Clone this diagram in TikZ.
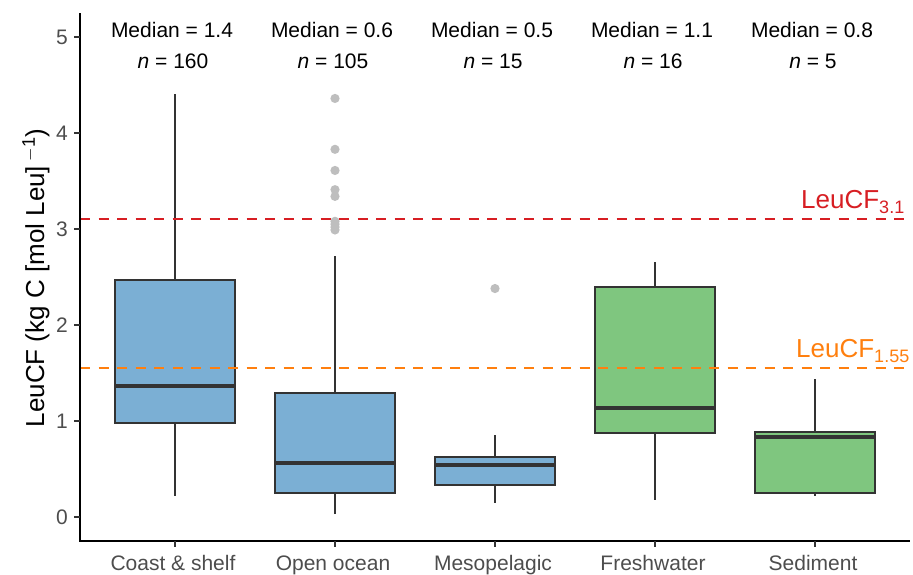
\documentclass[tikz,border=0pt]{standalone}
\usepackage{fontspec}
\setmainfont{Liberation Sans}
\definecolor{boxblue}{RGB}{123,175,212}
\definecolor{boxgreen}{RGB}{127,198,127}
\definecolor{edge}{RGB}{51,51,51}
\definecolor{ticktext}{RGB}{77,77,77}
\definecolor{outlier}{RGB}{190,190,190}
\definecolor{refred}{RGB}{215,30,35}
\definecolor{reforange}{RGB}{255,127,14}
% value on the LeuCF axis -> vertical position
\newcommand\yv[1]{517-96*(#1)}
% box plot: centre, low whisker, Q1, median, Q3, high whisker, fill
\newcommand\bplot[7]{%
  \draw[whisk] (#1,{\yv{#2}}) -- (#1,{\yv{#3}});
  \draw[whisk] (#1,{\yv{#5}}) -- (#1,{\yv{#6}});
  \draw[boxline,fill=#7] ({#1-60},{\yv{#5}}) rectangle ({#1+60},{\yv{#3}});
  \draw[medline] ({#1-60},{\yv{#4}}) -- ({#1+60},{\yv{#4}});}
\begin{document}
\begin{tikzpicture}[x=1pt,y=-1pt,
  whisk/.style={draw=edge,line width=2pt},
  boxline/.style={draw=edge,line width=2pt},
  medline/.style={draw=edge,line width=4pt},
  axisline/.style={draw=black,line width=1.8pt},
  tickmark/.style={draw=edge,line width=1.6pt},
  ticklab/.style={text=ticktext,font=\fontsize{21}{24}\selectfont},
  annot/.style={text=black,font=\fontsize{21}{24}\selectfont,anchor=base},
  refline/.style={line width=2pt,dash pattern=on 10pt off 8.5pt},
  dot/.style={fill=outlier}]
\useasboundingbox (0,0) rectangle (913,574);

% outliers
\foreach \v in {4.36,3.83,3.61,3.41,3.34,3.08,3.05,3.02,2.99}
  \fill[dot] (335,{\yv{\v}}) circle (4.6pt);
\fill[dot] (495,{\yv{2.38}}) circle (4.6pt);

% boxes
\bplot{175}{0.22}{0.98}{1.36}{2.47}{4.41}{boxblue}
\bplot{335}{0.03}{0.25}{0.56}{1.29}{2.72}{boxblue}
\bplot{495}{0.15}{0.33}{0.54}{0.63}{0.85}{boxblue}
\bplot{655}{0.18}{0.88}{1.14}{2.40}{2.66}{boxgreen}
\bplot{815}{0.22}{0.25}{0.83}{0.89}{1.44}{boxgreen}

% reference lines
\draw[refline,draw=refred] (80,{\yv{3.1}}) -- (910,{\yv{3.1}});
\draw[refline,draw=reforange] (80,{\yv{1.55}}) -- (910,{\yv{1.55}});
\node[anchor=base west,inner sep=0pt,text=refred,font=\fontsize{26}{28}\selectfont]
  (lab31) at (801,208) {LeuCF\raisebox{-5pt}{\fontsize{18}{20}\selectfont 3.1}};
\node[anchor=base west,inner sep=0pt,text=reforange,font=\fontsize{26}{28}\selectfont]
  (lab155) at (796,357) {LeuCF\raisebox{-5pt}{\fontsize{18}{20}\selectfont 1.55}};

% axes
\draw[axisline] (80,13) -- (80,541) -- (910,541);
\foreach \v in {0,1,2,3,4,5} {
  \draw[tickmark] (74,{\yv{\v}}) -- (80,{\yv{\v}});
  \node[ticklab,anchor=east,inner sep=0pt] (yt\v) at (68,{\yv{\v}}) {\v};
}
\foreach \x/\t [count=\i] in {175/Coast \& shelf,335/Open ocean,495/Mesopelagic,655/Freshwater,815/Sediment} {
  \draw[tickmark] (\x,541) -- (\x,547);
  \node[ticklab,anchor=base,inner sep=0pt] (xt\i) at ({\x-2},570) {\t};
}
\node[rotate=90,anchor=base,inner sep=0pt,font=\fontsize{26}{28}\selectfont]
  (ytitle) at (44,278) {LeuCF (kg C [mol Leu]\,\textsuperscript{$-$1})};

% group annotations
\foreach \x/\m/\n [count=\i] in {175/1.4/160,335/0.6/105,495/0.5/15,655/1.1/16,815/0.8/5} {
  \node[annot,inner sep=0pt] (med\i) at ({\x-3},37) {Median = \m};
  \node[annot,inner sep=0pt] (num\i) at ({\x-2},68) {\textit{n} = \n};
}
\end{tikzpicture}
\end{document}
